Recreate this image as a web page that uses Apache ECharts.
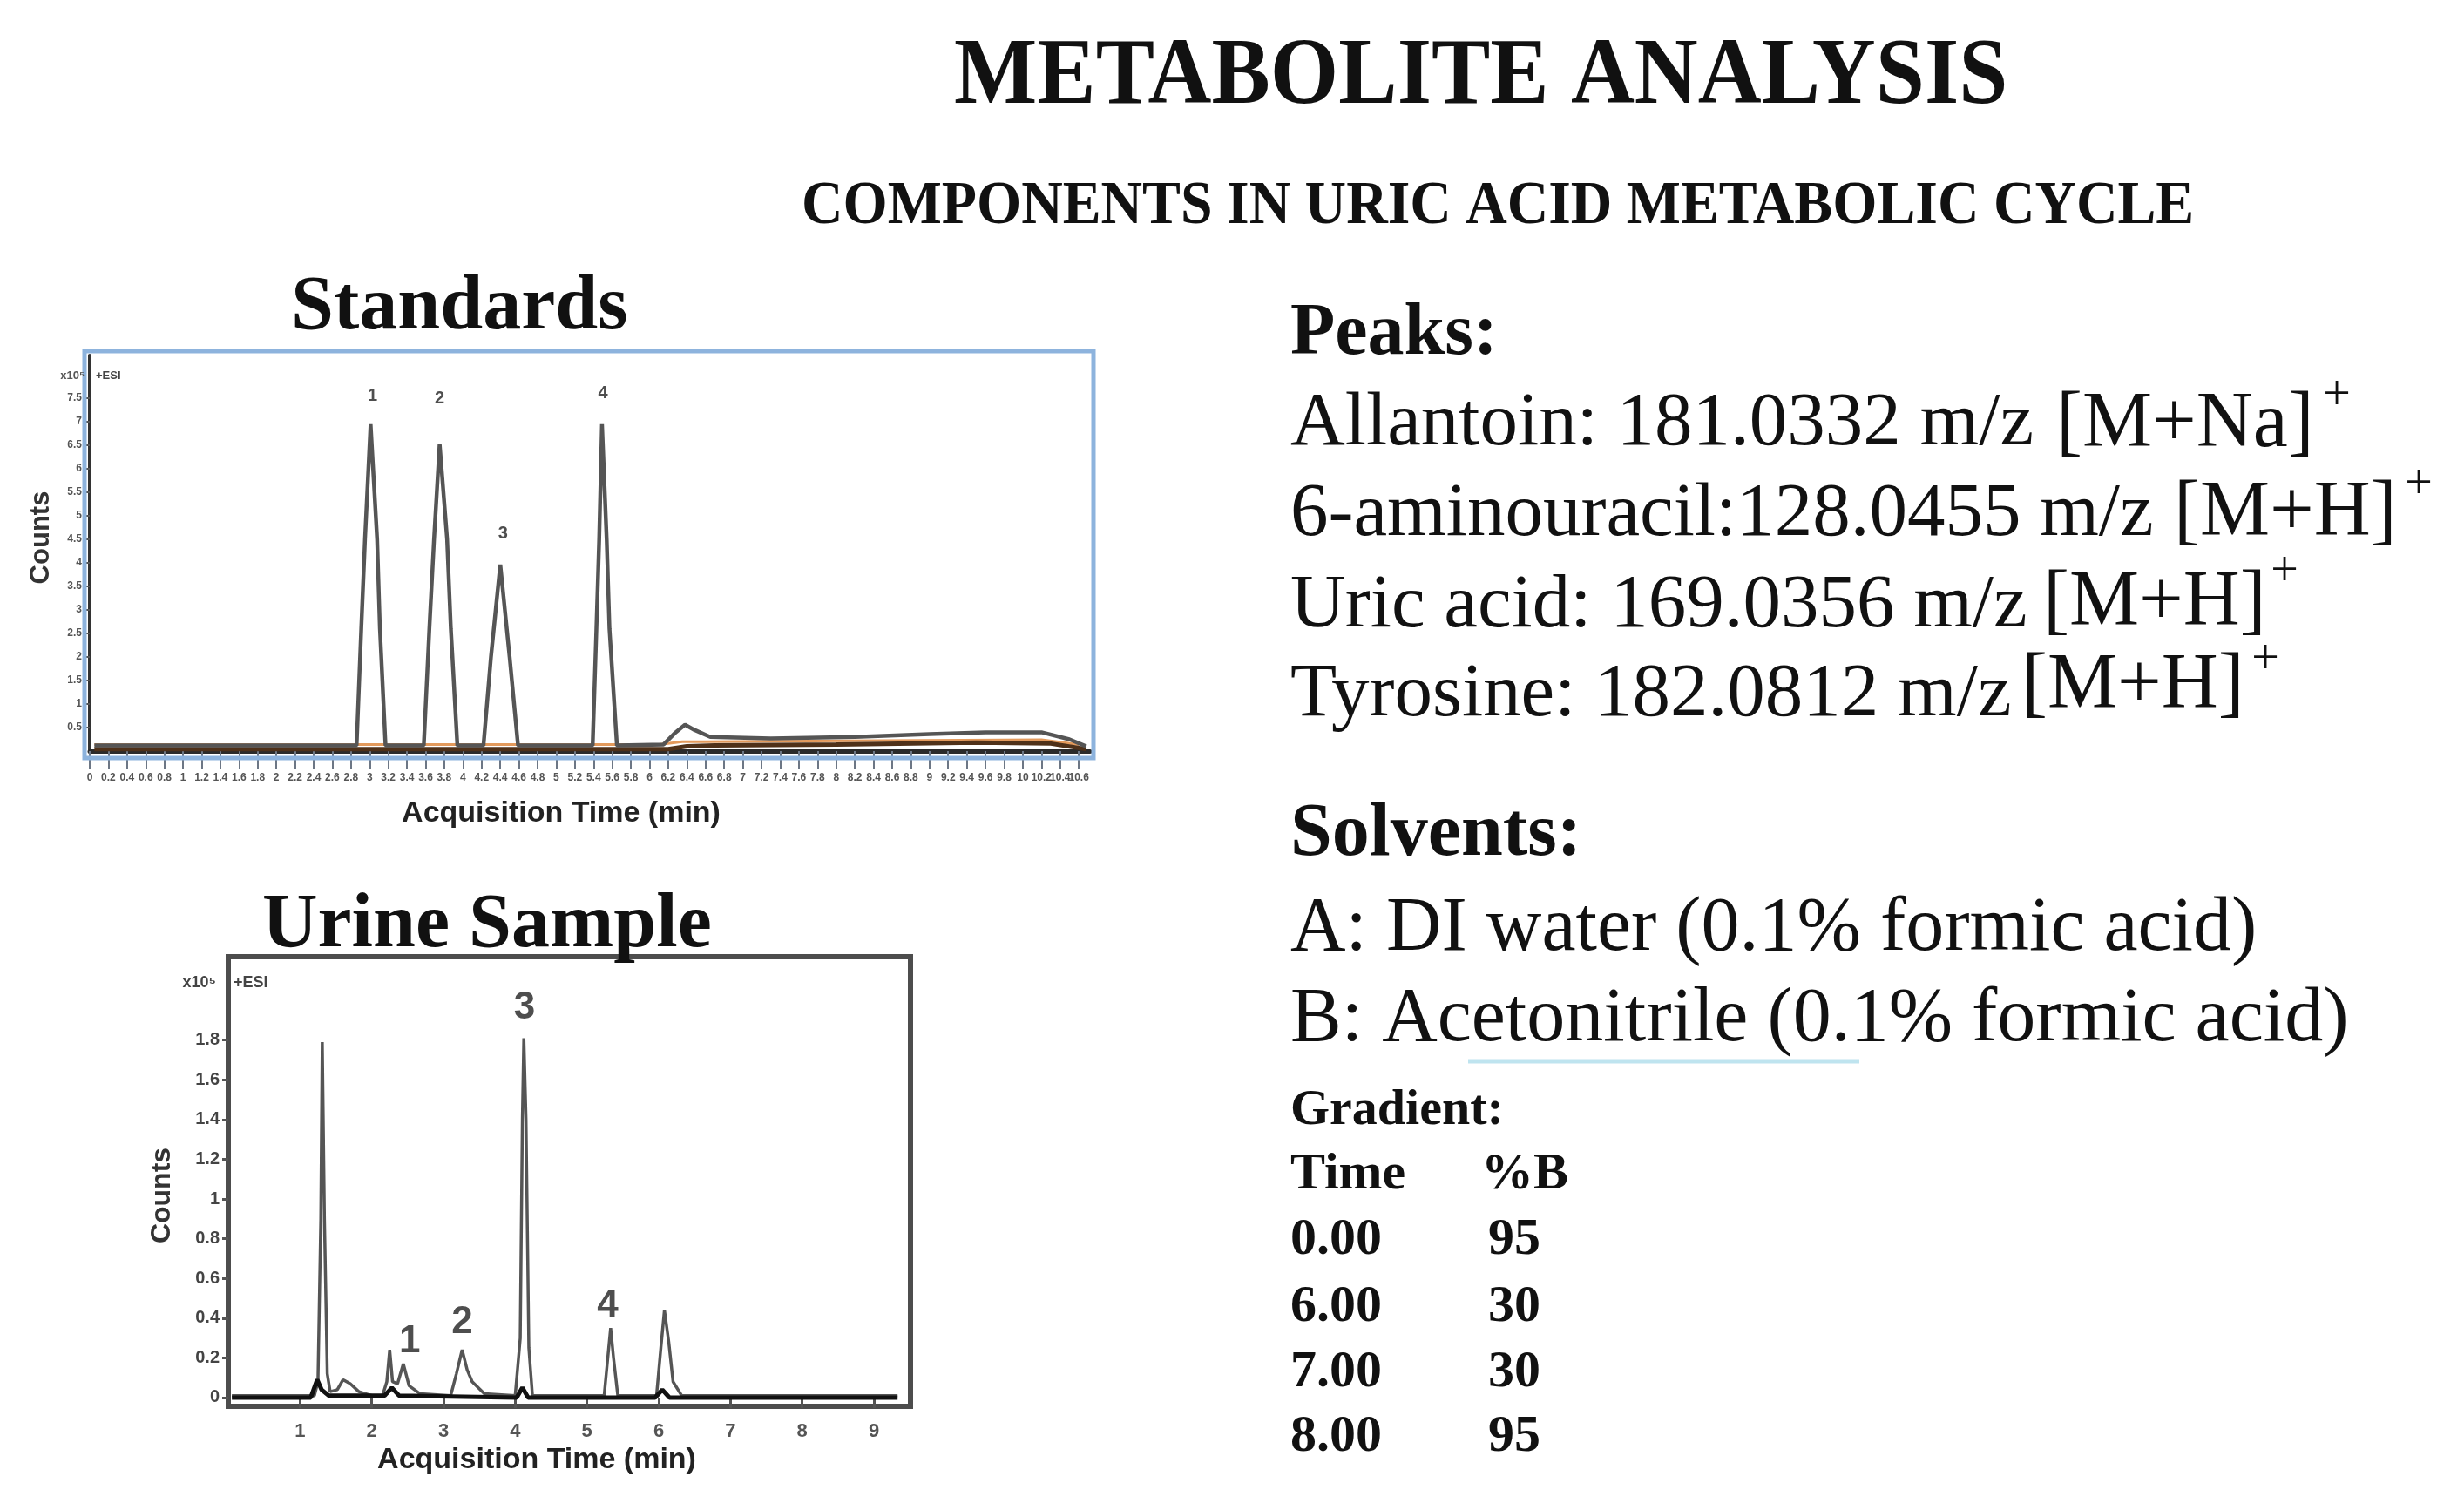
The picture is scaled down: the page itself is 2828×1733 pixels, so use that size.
<!DOCTYPE html>
<html>
<head>
<meta charset="utf-8">
<title>Metabolite Analysis</title>
<script src="https://cdn.jsdelivr.net/npm/echarts@6.0.0/dist/echarts.min.js"></script>
<style>
  html, body { margin: 0; padding: 0; background: #fff; }
  #main { width: 2828px; height: 1733px; }
</style>
</head>
<body>
<div id="main"></div>
<script>
// Standards chromatogram, time in min, counts in x10^5
const stdMainTrace = [
  [0.05, 0.12], [2.86, 0.12], [2.91, 2.6], [2.95, 4.5], [3.01, 6.94], [3.08, 4.5], [3.11, 2.6], [3.17, 0.12],
  [3.58, 0.12], [3.64, 2.6], [3.69, 4.5], [3.75, 6.52], [3.83, 4.5], [3.87, 2.6], [3.94, 0.12],
  [4.22, 0.12], [4.30, 2.0], [4.40, 3.96], [4.50, 2.0], [4.59, 0.12],
  [5.39, 0.12], [5.43, 2.6], [5.46, 4.5], [5.49, 6.94], [5.54, 4.5], [5.57, 2.6], [5.65, 0.12],
  [6.15, 0.14], [6.28, 0.4], [6.38, 0.56], [6.48, 0.45], [6.65, 0.3], [7.3, 0.27], [8.2, 0.3],
  [9.0, 0.36], [9.6, 0.4], [10.2, 0.4], [10.5, 0.25], [10.68, 0.1]
];
const stdBrownTrace = [
  [0.05, 0.04], [6.2, 0.04], [6.4, 0.1], [6.7, 0.12], [8.0, 0.14], [9.5, 0.18], [10.3, 0.16], [10.68, 0.04]
];
const stdOrangeTrace = [
  [0.05, 0.14], [6.1, 0.14], [6.35, 0.2], [6.6, 0.2], [8.5, 0.22], [10.2, 0.24], [10.6, 0.14]
];
const stdPeakLabels = [[3.03, 7.54, '1'], [3.75, 7.48, '2'], [4.43, 4.61, '3'], [5.50, 7.59, '4']];
const stdYTicks = [0.5, 1, 1.5, 2, 2.5, 3, 3.5, 4, 4.5, 5, 5.5, 6, 6.5, 7, 7.5];

// Urine sample chromatogram
const urineGreyTrace = [
  [0.05, 0.01], [1.2, 0.01], [1.25, 0.08], [1.29, 0.9], [1.31, 1.79], [1.34, 0.9], [1.38, 0.12], [1.42, 0.03],
  [1.52, 0.04], [1.6, 0.09], [1.7, 0.07], [1.82, 0.03], [2.0, 0.01],
  [2.15, 0.01], [2.21, 0.08], [2.25, 0.24], [2.29, 0.08], [2.36, 0.07], [2.44, 0.17], [2.52, 0.06], [2.67, 0.02],
  [3.1, 0.01], [3.18, 0.12], [3.26, 0.24], [3.33, 0.14], [3.40, 0.08], [3.57, 0.02],
  [4.0, 0.01], [4.07, 0.3], [4.10, 1.4], [4.12, 1.81], [4.15, 1.4], [4.19, 0.25], [4.24, 0.01],
  [5.24, 0.01], [5.29, 0.2], [5.33, 0.35], [5.37, 0.2], [5.43, 0.01],
  [5.97, 0.01], [6.03, 0.25], [6.08, 0.44], [6.14, 0.28], [6.2, 0.08], [6.32, 0.01], [9.33, 0.01]
];
const urineBlackTrace = [
  [0.05, 0.0], [1.15, 0.0], [1.24, 0.09], [1.3, 0.04], [1.4, 0.01], [2.18, 0.01], [2.28, 0.05], [2.38, 0.01],
  [4.02, 0.0], [4.1, 0.05], [4.18, 0.0], [5.95, 0.0], [6.05, 0.04], [6.15, 0.0], [9.33, 0.0]
];
const urinePeakLabels = [[2.53, 0.28, '1'], [3.26, 0.38, '2'], [4.13, 1.96, '3'], [5.29, 0.46, '4']];
const urineXTicks = [1, 2, 3, 4, 5, 6, 7, 8, 9];
const urineYTicks = [0, 0.2, 0.4, 0.6, 0.8, 1, 1.2, 1.4, 1.6, 1.8];

// Text panel
const peakNames = ['Allantoin: ', '6-aminouracil:', 'Uric acid: ', 'Tyrosine: '];
const peakMz = ['181.0332', '128.0455', '169.0356', '182.0812'];
const peakAdducts = ['[M+Na]', '[M+H]', '[M+H]', '[M+H]'];
const solventLines = ['A: DI water (0.1% formic acid)', 'B: Acetonitrile (0.1% formic acid)'];
const gradientTime = ['0.00', '6.00', '7.00', '8.00'];
const gradientPctB = ['95', '30', '30', '95'];

const SERIF = '"Liberation Serif", "DejaVu Serif", serif';
const SANS = '"Liberation Sans", Arial, sans-serif';

function txt(x, y, text, font, opts = {}) {
    return {
        type: 'text', x, y, z: 20,
        scaleX: opts.scaleX || 1,
        rotation: opts.rotation || 0,
        style: {
            text, font,
            fill: opts.fill || '#111',
            textAlign: opts.align || 'left',
            textVerticalAlign: 'middle'
        }
    };
}

const graphics = [
    txt(1095, 90, 'METABOLITE ANALYSIS', 'bold 108px ' + SERIF, {scaleX: 0.935}),
    txt(920, 238, 'COMPONENTS IN URIC ACID METABOLIC CYCLE', 'bold 70px ' + SERIF, {scaleX: 0.94}),
    txt(334, 354, 'Standards', 'bold 88px ' + SERIF),
    txt(301, 1063, 'Urine Sample', 'bold 88px ' + SERIF),

    // standards frame and axis captions
    {type: 'rect', z: 1, shape: {x: 97, y: 403, width: 1158, height: 467},
        style: {fill: 'none', stroke: '#8db3dd', lineWidth: 5}},
    txt(97, 431, 'x10\u2075', 'bold 13px ' + SANS, {align: 'right', fill: '#555'}),
    txt(110, 431, '+ESI', 'bold 13px ' + SANS, {fill: '#444'}),
    txt(47, 617, 'Counts', 'bold 31px ' + SANS, {align: 'center', rotation: Math.PI / 2, fill: '#333'}),
    txt(644, 934, 'Acquisition Time (min)', 'bold 34px ' + SANS, {align: 'center', fill: '#222'}),

    // urine captions
    txt(248, 1128, 'x10\u2075', 'bold 18px ' + SANS, {align: 'right', fill: '#444'}),
    txt(268, 1128, '+ESI', 'bold 18px ' + SANS, {fill: '#444'}),
    txt(186, 1372, 'Counts', 'bold 32px ' + SANS, {align: 'center', rotation: Math.PI / 2, fill: '#333'}),
    txt(616, 1676, 'Acquisition Time (min)', 'bold 34px ' + SANS, {align: 'center', fill: '#222'}),

    txt(1481, 384, 'Peaks:', 'bold 84px ' + SERIF),
    txt(1481, 959, 'Solvents:', 'bold 86px ' + SERIF),
    {type: 'line', z: 1, shape: {x1: 1685, y1: 1218, x2: 2134, y2: 1218},
        style: {stroke: '#bfe4ef', lineWidth: 5}},
    txt(1481, 1275, 'Gradient:', 'bold 58px ' + SERIF),
    txt(1481, 1348, 'Time', 'bold 60px ' + SERIF),
    txt(1700, 1348, '%B', 'bold 60px ' + SERIF)
];

const lineY = [487, 591, 696, 798];
const adductX = [2360, 2495, 2345, 2320];
const adductY = [488, 590, 693, 788];
const plusX = [2682, 2776, 2622, 2600];
const plusY = [455, 557, 657, 758];
peakNames.forEach((name, i) => {
    graphics.push(txt(1481, lineY[i], name + peakMz[i] + ' m/z', '87px ' + SERIF));
    graphics.push(txt(adductX[i], adductY[i], peakAdducts[i], '90px ' + SERIF));
    graphics.push(txt(plusX[i], plusY[i], '+', '56px ' + SERIF, {align: 'center'}));
});
const solventY = [1067, 1171];
solventLines.forEach((s, i) => graphics.push(txt(1481, solventY[i], s, '88px ' + SERIF)));
const rowY = [1423, 1500, 1575, 1649];
gradientTime.forEach((t, i) => {
    graphics.push(txt(1481, rowY[i], t, 'bold 60px ' + SERIF));
    graphics.push(txt(1708, rowY[i], gradientPctB[i], 'bold 60px ' + SERIF));
});

function trace(data, axis, color, width, z) {
    return {
        type: 'line', data, xAxisIndex: axis, yAxisIndex: axis,
        showSymbol: false, symbol: 'none', smooth: false, z: z || 3,
        lineStyle: {color, width}, silent: true
    };
}

function peakLabels(data, axis, size) {
    return {
        type: 'scatter', data, xAxisIndex: axis, yAxisIndex: axis, symbolSize: 0, z: 10,
        label: {
            show: true, position: 'inside', formatter: p => p.value[2],
            fontFamily: SANS, fontWeight: 'bold', fontSize: size, color: '#222'
        }
    };
}

const chart = echarts.init(document.getElementById('main'));
chart.setOption({
    animation: false,
    backgroundColor: '#fff',
    grid: [
        {left: 103, top: 408, width: 1148, height: 454},
        {left: 262, top: 1098, width: 783, height: 516, show: true, borderColor: '#4d4d4d', borderWidth: 6}
    ],
    xAxis: [
        {
            type: 'value', gridIndex: 0, min: 0, max: 10.72, interval: 0.2,
            axisLine: {show: true, onZero: false, lineStyle: {color: '#2b2b2b', width: 5}},
            axisTick: {show: true, length: 20, lineStyle: {color: '#6d7785', width: 2}},
            axisLabel: {margin: 25, fontSize: 12, fontWeight: 'bold', color: '#555', fontFamily: SANS, showMaxLabel: false},
            splitLine: {show: false}
        },
        {
            type: 'value', gridIndex: 1, min: 0, max: 9.51,
            axisLine: {show: false},
            axisTick: {show: true, length: 12, customValues: urineXTicks, lineStyle: {color: '#555', width: 3}},
            axisLabel: {margin: 18, customValues: urineXTicks, fontSize: 22, fontWeight: 'bold', color: '#555', fontFamily: SANS},
            splitLine: {show: false}
        }
    ],
    yAxis: [
        {
            type: 'value', gridIndex: 0, min: 0, max: 8.4,
            axisLine: {show: true, onZero: false, lineStyle: {color: '#333', width: 4}},
            axisTick: {show: true, length: 5, customValues: stdYTicks, lineStyle: {color: '#555', width: 2}},
            axisLabel: {margin: 9, customValues: stdYTicks, fontSize: 12, fontWeight: 'bold', color: '#555', fontFamily: SANS},
            splitLine: {show: false}
        },
        {
            type: 'value', gridIndex: 1, min: -0.044, max: 2.22,
            axisLine: {show: false},
            axisTick: {show: true, length: 7, customValues: urineYTicks, lineStyle: {color: '#555', width: 3}},
            axisLabel: {margin: 10, customValues: urineYTicks, fontSize: 20, fontWeight: 'bold', color: '#444', fontFamily: SANS},
            splitLine: {show: false}
        }
    ],
    series: [
        trace(stdOrangeTrace, 0, '#e39a5c', 3, 2),
        trace(stdBrownTrace, 0, '#4f3119', 5, 3),
        trace(stdMainTrace, 0, '#555', 4.5, 4),
        peakLabels(stdPeakLabels, 0, 20),
        trace(urineGreyTrace, 1, '#555', 3.5, 3),
        trace(urineBlackTrace, 1, '#111', 5, 4),
        peakLabels(urinePeakLabels, 1, 44)
    ],
    graphic: graphics
});
</script>
</body>
</html>
